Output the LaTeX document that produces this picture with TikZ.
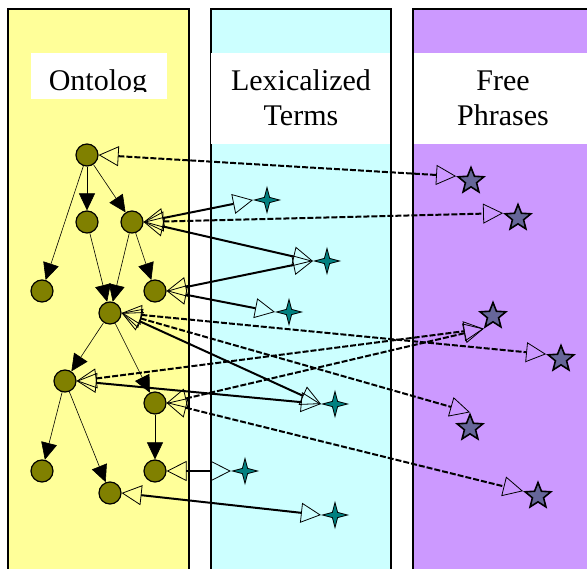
\documentclass[tikz,border=0pt]{standalone}
\usepackage{fontspec}
\setmainfont{Liberation Serif}
\usetikzlibrary{arrows.meta,shapes.geometric}

\definecolor{ontoyellow}{RGB}{255,255,153}
\definecolor{lexcyan}{RGB}{204,255,255}
\definecolor{phrpurple}{RGB}{204,153,255}
\definecolor{conceptfill}{RGB}{128,128,0}
\definecolor{lexfill}{RGB}{0,128,128}
\definecolor{phrfill}{RGB}{102,102,153}

\pgfdeclarelayer{panels}
\pgfdeclarelayer{links}
\pgfsetlayers{panels,links,main}

\tikzset{
  concept/.style={circle,draw,line width=1.2pt,fill=conceptfill,minimum size=22pt,inner sep=0pt},
  lexterm/.style={star,star points=4,star point ratio=3.4,draw,line width=0.8pt,fill=lexfill,minimum size=25pt,inner sep=0pt},
  phrase/.style={star,star points=5,star point ratio=2.3,draw,line width=1.6pt,fill=phrfill,minimum size=27pt,inner sep=0pt},
  isa/.style={line width=0.6pt,-{Triangle[length=17pt,width=16pt]}},
  link/.style={line width=2pt,{Triangle[open,length=20pt,width=20pt,line width=0.8pt]}-{Triangle[open,length=20pt,width=20pt,line width=0.8pt]}},
  lexlink/.style={link},
  phrlink/.style={link,dash pattern=on 6pt off 2pt},
  coltitle/.style={font=\fontsize{30}{35.3}\selectfont,align=center,inner sep=0pt,anchor=base}
}

\begin{document}
\begin{tikzpicture}[x=1pt,y=-1pt]
\clip (0,0) rectangle (587,569);

% columns
\begin{pgfonlayer}{panels}
\draw[line width=1.4pt,fill=ontoyellow] (8,9) rectangle (189,600);%
\draw[line width=1.4pt,fill=lexcyan] (211,9) rectangle (391,600);%
\draw[line width=1.4pt,fill=phrpurple] (413,9) rectangle (620,600);%
\fill[white] (31,53) rectangle (167,99);
\fill[white] (211,53) rectangle (390,144);
\fill[white] (414,53) rectangle (587,144);
\end{pgfonlayer}

\begin{scope}
\clip (31,53) rectangle (167,91.5);
\node[coltitle] (ontotitle) at (98,90.7) {Ontolog};
\end{scope}
\node[coltitle] (lextitle) at (301,126) {Lexicalized\\Terms};
\node[coltitle] (phrtitle) at (503,126) {Free\\Phrases};

% ontology
\node[concept] (c1) at (87,155) {};
\node[concept] (c2) at (87,222) {};
\node[concept] (c3) at (132,222) {};
\node[concept] (c4) at (42,291) {};
\node[concept] (c5) at (155,291) {};
\node[concept] (c6) at (110,313) {};
\node[concept] (c7) at (65,381) {};
\node[concept] (c8) at (155,403) {};
\node[concept] (c9) at (42,471) {};
\node[concept] (c10) at (155,471) {};
\node[concept] (c11) at (110,493) {};

\draw[isa] (c1) -- (c2);
\draw[isa] (c1) -- (c3);
\draw[isa] (c1) -- (c4);
\draw[isa] (c2) -- (c6);
\draw[isa] (c3) -- (c6);
\draw[isa] (c3) -- (c5);
\draw[isa] (c6) -- (c7);
\draw[isa] (c6) -- (c8);
\draw[isa] (c7) -- (c9);
\draw[isa] (c7) -- (c11);
\draw[isa] (c8) -- (c10);

% lexicalized terms
\node[lexterm] (s1) at (267,200) {};
\node[lexterm] (s2) at (327,261) {};
\node[lexterm] (s3) at (289,312) {};
\node[lexterm] (s4) at (335,404) {};
\node[lexterm] (s5) at (245,471) {};
\node[lexterm] (s6) at (335,515) {};

% free phrases
\node[phrase] (p1) at (471,181) {};
\node[phrase] (p2) at (518,218) {};
\node[phrase] (p3) at (493,316) {};
\node[phrase] (p4) at (561,359) {};
\node[phrase] (p5) at (470,428) {};
\node[phrase] (p6) at (538,496) {};

\begin{pgfonlayer}{links}
\draw[lexlink] (c3.east) -- (s1.outer point 2);
\draw[lexlink] (c3.east) -- (s2.outer point 2);
\draw[lexlink] (c5.east) -- (s2.outer point 2);
\draw[lexlink] (c5.east) -- (s3.outer point 2);
\draw[lexlink] (c6.east) -- (s4.outer point 2);
\draw[lexlink] (c7.east) -- (s4.outer point 2);
\draw[lexlink] (c10.east) -- (s5.outer point 2);
\draw[lexlink] (c11.east) -- (s6.outer point 2);

\draw[phrlink] (c1.east) -- (p1.outer point 2);
\draw[phrlink] (c3.east) -- (p2.outer point 2);
\draw[phrlink] (c6.east) -- (p4.outer point 2);
\draw[phrlink] (c6.east) -- (p5.outer point 1);
\draw[phrlink] (c7.east) -- (p3.outer point 3);
\draw[phrlink] (c8.east) -- (p3.outer point 3);
\draw[phrlink] (c8.east) -- (p6.outer point 2);
\end{pgfonlayer}

\end{tikzpicture}
\end{document}
